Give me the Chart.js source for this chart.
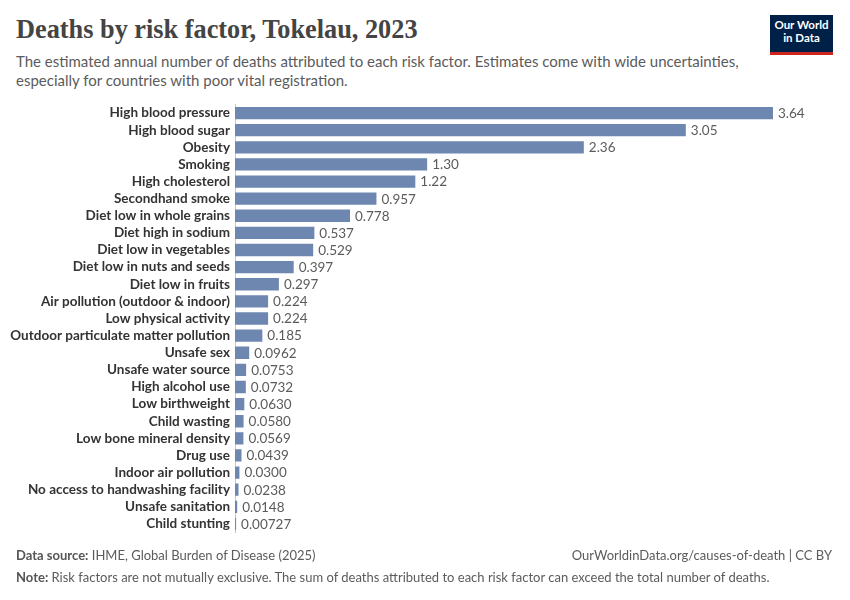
<!DOCTYPE html>
<html><head><meta charset="utf-8">
<script src="https://cdn.jsdelivr.net/npm/chart.js@4"></script>
<style>
body{margin:0;width:850px;height:600px;background:#fff;font-family:Lato,"Noto Sans",sans-serif;position:relative;overflow:hidden}
#c{position:absolute;left:0;top:0}
.t{position:absolute;white-space:nowrap}
#title{left:16px;top:15px;font-family:"Liberation Serif",serif;font-weight:bold;font-size:26.3px;color:#444}
#sub{left:16px;top:52px;font-size:15px;color:#5b5b5b;line-height:19px;white-space:normal;width:740px}
#logo{position:absolute;left:770px;top:15px;width:63px;height:34px;background:#002147;border-bottom:3px solid #ce261e;color:#fff;font-size:11.5px;font-weight:bold;text-align:center;line-height:13px;padding-top:3px;box-sizing:content-box}
#src{left:16px;top:547px;font-size:13px;color:#5b5b5b}
#url{right:18px;top:547px;font-size:13px;color:#5b5b5b}
#note{left:16px;top:569px;font-size:13px;color:#5b5b5b}
b{color:#555}
</style></head><body>
<div id="title" class="t">Deaths by risk factor, Tokelau, 2023</div>
<div id="sub" class="t">The estimated annual number of deaths attributed to each risk factor. Estimates come with wide uncertainties, especially for countries with poor vital registration.</div>
<div id="logo">Our World<br>in Data</div>
<canvas id="c" width="850" height="600"></canvas>
<div id="src" class="t"><b>Data source:</b> IHME, Global Burden of Disease (2025)</div>
<div id="url" class="t">OurWorldinData.org/causes-of-death | CC BY</div>
<div id="note" class="t"><b>Note:</b> Risk factors are not mutually exclusive. The sum of deaths attributed to each risk factor can exceed the total number of deaths.</div>
<script>
const categories = ["High blood pressure","High blood sugar","Obesity","Smoking","High cholesterol","Secondhand smoke","Diet low in whole grains","Diet high in sodium","Diet low in vegetables","Diet low in nuts and seeds","Diet low in fruits","Air pollution (outdoor & indoor)","Low physical activity","Outdoor particulate matter pollution","Unsafe sex","Unsafe water source","High alcohol use","Low birthweight","Child wasting","Low bone mineral density","Drug use","Indoor air pollution","No access to handwashing facility","Unsafe sanitation","Child stunting"];
const deaths = [3.64,3.05,2.36,1.30,1.22,0.957,0.778,0.537,0.529,0.397,0.297,0.224,0.224,0.185,0.0962,0.0753,0.0732,0.0630,0.0580,0.0569,0.0439,0.0300,0.0238,0.0148,0.00727];
const valueLabels = ["3.64","3.05","2.36","1.30","1.22","0.957","0.778","0.537","0.529","0.397","0.297","0.224","0.224","0.185","0.0962","0.0753","0.0732","0.0630","0.0580","0.0569","0.0439","0.0300","0.0238","0.0148","0.00727"];

const labelPlugin = {
  id:'vals',
  afterDatasetsDraw(chart){
    const ctx = chart.ctx;
    const meta = chart.getDatasetMeta(0);
    ctx.save();
    ctx.font = '13.5px Lato';
    ctx.fillStyle = '#5b5b5b';
    ctx.textBaseline = 'middle';
    ctx.textAlign = 'left';
    meta.data.forEach((bar,i)=>{
      ctx.fillText(valueLabels[i], bar.x + 5, bar.y + 0.5);
    });
    ctx.restore();
  }
};

new Chart(document.getElementById('c'),{
  type:'bar',
  data:{labels:categories,datasets:[{data:deaths,backgroundColor:'#6e87b1',barPercentage:0.72,categoryPercentage:1}]},
  options:{
    indexAxis:'y',responsive:false,animation:false,
    layout:{padding:{top:104.5,bottom:67.5,right:77,left:0}},
    plugins:{legend:{display:false},tooltip:{enabled:false}},
    scales:{
      x:{display:false,min:0,max:3.64},
      y:{
        afterFit(s){s.width=235;},
        grid:{display:false,drawTicks:false},
        border:{display:true,color:'#c8c8c8',width:1},
        ticks:{color:'#333',font:{family:'Lato',size:13.5,weight:'bold'},padding:5,autoSkip:false}
      }
    }
  },
  plugins:[labelPlugin]
});
</script>
</body></html>
